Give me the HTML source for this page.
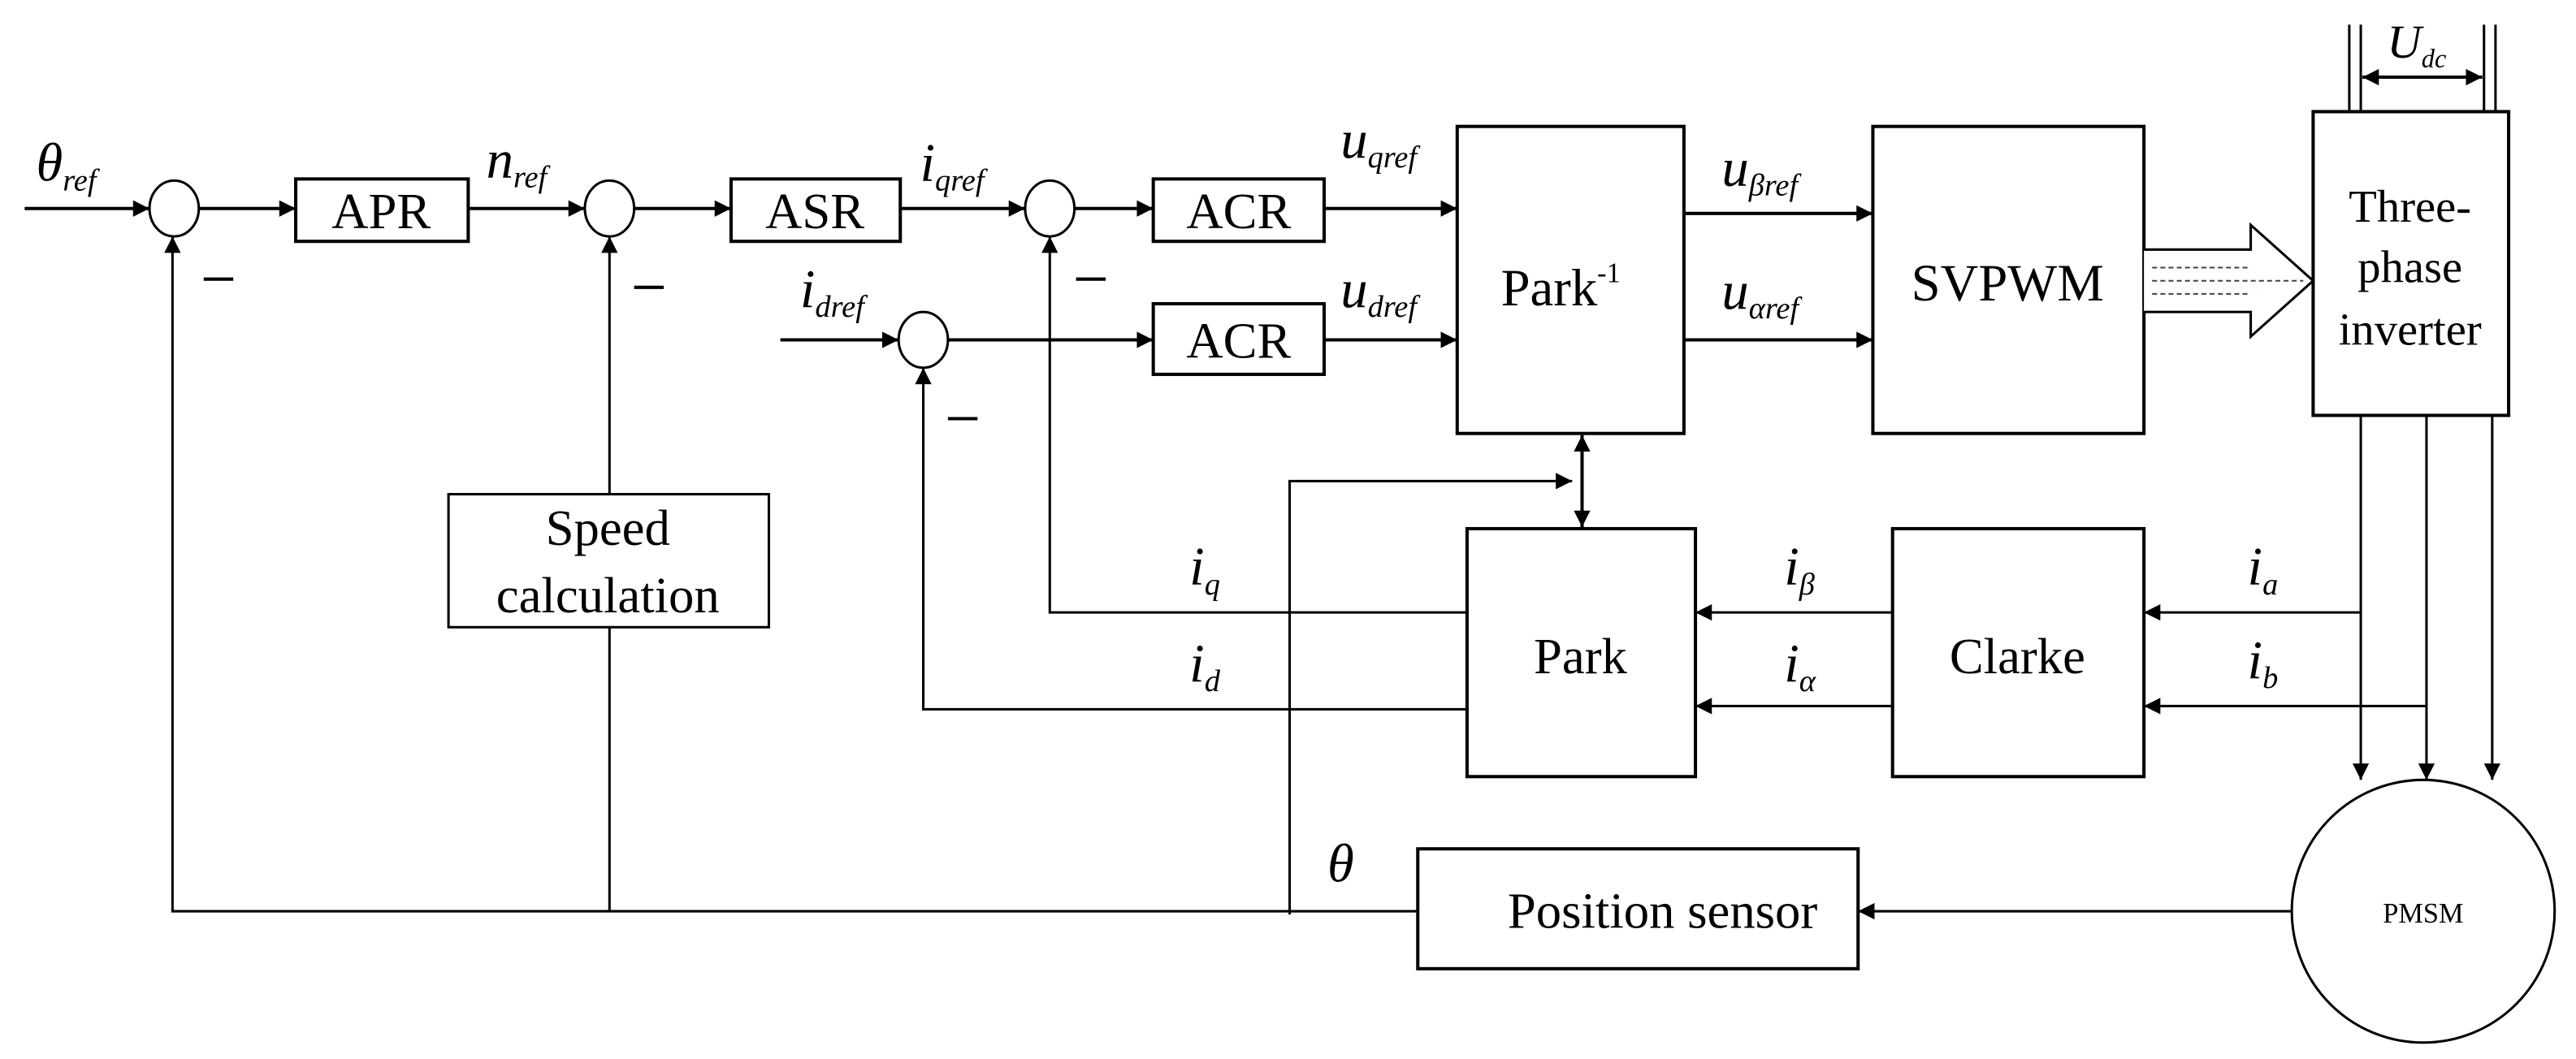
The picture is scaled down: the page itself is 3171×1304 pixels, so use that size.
<!DOCTYPE html>
<html><head><meta charset="utf-8"><style>
html,body{margin:0;padding:0;background:#fff;}
svg{display:block;}
text{font-family:"Liberation Serif",serif;fill:#000;}
</style></head><body>
<svg width="3171" height="1304" viewBox="0 0 1568 645" preserveAspectRatio="none" xmlns="http://www.w3.org/2000/svg">
<defs>
<marker id="a" viewBox="0 0 10 10" refX="10" refY="5" markerWidth="11" markerHeight="10" markerUnits="userSpaceOnUse" orient="auto-start-reverse"><path d="M0,0 L10,5 L0,10 z" fill="#000"/></marker>
</defs>
<g stroke="#000" stroke-width="2" fill="none">
<!-- lines first -->
<line x1="15" y1="127" x2="91" y2="127" marker-end="url(#a)"/>
<line x1="121" y1="127" x2="180" y2="127" marker-end="url(#a)"/>
<line x1="285" y1="127" x2="356" y2="127" marker-end="url(#a)"/>
<line x1="386" y1="127" x2="445" y2="127" marker-end="url(#a)"/>
<line x1="548" y1="127" x2="624" y2="127" marker-end="url(#a)"/>
<line x1="654" y1="127" x2="702" y2="127" marker-end="url(#a)"/>
<line x1="806" y1="127" x2="887" y2="127" marker-end="url(#a)"/>
<line x1="475" y1="207" x2="547" y2="207" marker-end="url(#a)"/>
<line x1="577" y1="207" x2="702" y2="207" marker-end="url(#a)"/>
<line x1="806" y1="207" x2="887" y2="207" marker-end="url(#a)"/>
<line x1="1025" y1="130" x2="1140" y2="130" marker-end="url(#a)"/>
<line x1="1025" y1="207" x2="1140" y2="207" marker-end="url(#a)"/>
<line x1="1430" y1="15" x2="1430" y2="68" stroke-width="1.5"/>
<line x1="1437" y1="15" x2="1437" y2="68" stroke-width="1.5"/>
<line x1="1512" y1="15" x2="1512" y2="68" stroke-width="1.5"/>
<line x1="1519" y1="15" x2="1519" y2="68" stroke-width="1.5"/>
<line x1="1438" y1="47" x2="1511" y2="47" marker-start="url(#a)" marker-end="url(#a)"/>
<line x1="1437" y1="253" x2="1437" y2="475" stroke-width="1.5" marker-end="url(#a)"/>
<line x1="1477" y1="253" x2="1477" y2="475" stroke-width="1.5" marker-end="url(#a)"/>
<line x1="1517" y1="253" x2="1517" y2="475" stroke-width="1.5" marker-end="url(#a)"/>
<line x1="1437" y1="373" x2="1305" y2="373" stroke-width="1.5" marker-end="url(#a)"/>
<line x1="1477" y1="430" x2="1305" y2="430" stroke-width="1.5" marker-end="url(#a)"/>
<line x1="1152" y1="373" x2="1032" y2="373" stroke-width="1.5" marker-end="url(#a)"/>
<line x1="1152" y1="430" x2="1032" y2="430" stroke-width="1.5" marker-end="url(#a)"/>
<polyline points="893,373 639,373 639,144" stroke-width="1.5" marker-end="url(#a)"/>
<polyline points="893,432 562,432 562,224" stroke-width="1.5" marker-end="url(#a)"/>
<line x1="963" y1="265" x2="963" y2="321" marker-start="url(#a)" marker-end="url(#a)"/>
<polyline points="785,557 785,293 957,293" stroke-width="1.5" marker-end="url(#a)"/>
<polyline points="863,555 105,555 105,144" stroke-width="1.5" marker-end="url(#a)"/>
<line x1="371" y1="555" x2="371" y2="144" stroke-width="1.5" marker-end="url(#a)"/>
<line x1="1395" y1="555" x2="1131" y2="555" stroke-width="1.5" marker-end="url(#a)"/>
<!-- boxes -->
<g fill="#fff">
<rect x="180" y="109" width="105" height="38"/>
<rect x="445" y="109" width="103" height="38"/>
<rect x="702" y="109" width="104" height="38"/>
<rect x="702" y="185" width="104" height="43"/>
<rect x="887" y="77" width="138" height="187"/>
<rect x="1140" y="77" width="165" height="187"/>
<rect x="1408" y="68" width="119" height="185"/>
<rect x="893" y="322" width="139" height="151"/>
<rect x="1152" y="322" width="153" height="151"/>
<rect x="273" y="301" width="195" height="81" stroke-width="1.5"/>
<rect x="863" y="517" width="268" height="73"/>
<circle cx="1475" cy="555" r="80" stroke-width="1.5"/>
<ellipse cx="106" cy="127" rx="15" ry="17" stroke-width="1.5"/>
<ellipse cx="371" cy="127" rx="15" ry="17" stroke-width="1.5"/>
<ellipse cx="639" cy="127" rx="15" ry="17" stroke-width="1.5"/>
<ellipse cx="562" cy="207" rx="15" ry="17" stroke-width="1.5"/>
</g>
<line x1="124" y1="170" x2="142" y2="170"/>
<line x1="386" y1="175" x2="404" y2="175"/>
<line x1="655" y1="170" x2="673" y2="170"/>
<line x1="577" y1="255" x2="595" y2="255"/>
<path d="M1305,152 L1370,152 L1370,137 L1408,171 L1370,205 L1370,190 L1305,190" stroke-width="1.5" fill="#fff"/>
<line x1="1310" y1="163" x2="1370" y2="163" stroke="#345" stroke-width="1" stroke-dasharray="3,2"/>
<line x1="1310" y1="171" x2="1402" y2="171" stroke="#345" stroke-width="1" stroke-dasharray="3,2"/>
<line x1="1310" y1="179" x2="1370" y2="179" stroke="#345" stroke-width="1" stroke-dasharray="3,2"/>
</g>
<g font-size="31" text-anchor="middle">
<text x="232" y="139">APR</text>
<text x="496" y="139">ASR</text>
<text x="754" y="139">ACR</text>
<text x="754" y="218">ACR</text>
<text x="950" y="186" font-size="32">Park<tspan font-size="17" dy="-14">-1</tspan></text>
<text x="1222" y="183" font-size="32">SVPWM</text>
<text x="1467" y="135" font-size="28">Three-</text>
<text x="1467" y="172" font-size="28">phase</text>
<text x="1467" y="210" font-size="28">inverter</text>
<text x="962" y="410">Park</text>
<text x="1228" y="410">Clarke</text>
<text x="370" y="332">Speed</text>
<text x="370" y="373">calculation</text>
<text x="1012" y="565">Position sensor</text>
<text x="1475" y="562" font-size="17">PMSM</text>
</g>
<g font-size="33" font-style="italic">
<text x="22" y="110">θ<tspan font-size="19" dy="6">ref</tspan></text>
<text x="296" y="108">n<tspan font-size="19" dy="6">ref</tspan></text>
<text x="560" y="110">i<tspan font-size="19" dy="6">qref</tspan></text>
<text x="816" y="96">u<tspan font-size="19" dy="6">qref</tspan></text>
<text x="816" y="187">u<tspan font-size="19" dy="6">dref</tspan></text>
<text x="487" y="187">i<tspan font-size="19" dy="6">dref</tspan></text>
<text x="1048" y="113">u<tspan font-size="19" dy="6">βref</tspan></text>
<text x="1048" y="188">u<tspan font-size="19" dy="6">αref</tspan></text>
<text x="1453" y="35" font-size="29">U<tspan font-size="16" dy="6">dc</tspan></text>
<text x="724" y="356">i<tspan font-size="19" dy="6">q</tspan></text>
<text x="724" y="415">i<tspan font-size="19" dy="6">d</tspan></text>
<text x="1086" y="356">i<tspan font-size="19" dy="6">β</tspan></text>
<text x="1086" y="415">i<tspan font-size="19" dy="6">α</tspan></text>
<text x="1368" y="356">i<tspan font-size="19" dy="6">a</tspan></text>
<text x="1368" y="413">i<tspan font-size="19" dy="6">b</tspan></text>
<text x="808" y="537">θ</text>
</g>
</svg>
</body></html>
